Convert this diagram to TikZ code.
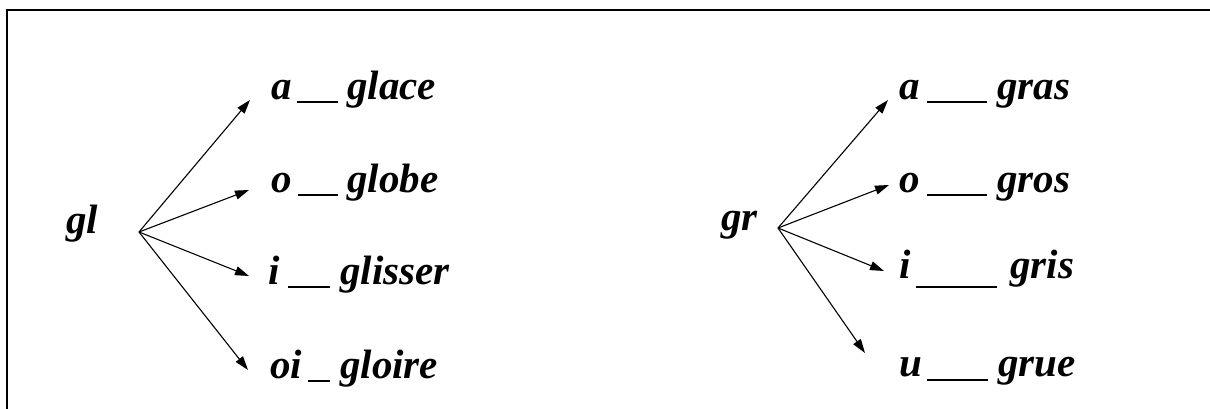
\documentclass[tikz,border=0pt]{standalone}
\usepackage{fontspec}
\setmainfont{Liberation Serif}
\usetikzlibrary{arrows.meta}
\begin{document}
\begin{tikzpicture}[x=1pt,y=-1pt,
  lbl/.style={anchor=base west,inner sep=0pt,font=\fontsize{41}{45}\selectfont\bfseries\itshape},
  conn/.style={line width=1.1pt,-{Triangle[length=14pt,width=9pt]}},
  blank/.style={line width=2pt},
  frame/.style={line width=1.4pt}]
\useasboundingbox (0,0) rectangle (1210,409);
% frame (top and left edges)
\draw[frame] (7,409) -- (7,10) -- (1210,10);
% left group
\node[lbl] (gl) at (66,233) {gl};
\coordinate (o1) at (139,232);
\coordinate (t1) at (250,100);
\coordinate (t2) at (249,190);
\coordinate (t3) at (249,276);
\coordinate (t4) at (248,370);
\foreach \t in {t1,t2,t3,t4} \draw[conn] (o1) -- (\t);
\node[lbl] (la) at (271,100) {a};
\node[lbl] (lo) at (271,192) {o};
\node[lbl] (li) at (268,284) {i};
\node[lbl] (loi) at (270,378) {oi};
\node[lbl] (wa) at (347,100) {glace};
\node[lbl] (wo) at (347,192) {globe};
\node[lbl] (wi) at (340,284) {glisser};
\node[lbl] (woi) at (340,378) {gloire};
\draw[blank] (297,102) -- (338,102);
\draw[blank] (298,195) -- (338,195);
\draw[blank] (288,287) -- (330,287);
\draw[blank] (308,381) -- (330,381);
% right group
\node[lbl] (gr) at (721,230) {gr};
\coordinate (o2) at (778,228);
\coordinate (s1) at (888,100);
\coordinate (s2) at (889,185);
\coordinate (s3) at (884,271);
\coordinate (s4) at (865,353);
\foreach \t in {s1,s2,s3,s4} \draw[conn] (o2) -- (\t);
\node[lbl] (ra) at (899,100) {a};
\node[lbl] (ro) at (899,193) {o};
\node[lbl] (ri) at (899,278) {i};
\node[lbl] (ru) at (899,376) {u};
\node[lbl] (wra) at (997,100) {gras};
\node[lbl] (wro) at (997,193) {gros};
\node[lbl] (wri) at (1010,278) {gris};
\node[lbl] (wru) at (998,376) {grue};
\draw[blank] (927,102) -- (987,102);
\draw[blank] (927,195) -- (987,195);
\draw[blank] (916,287) -- (997,287);
\draw[blank] (927,380) -- (988,380);
\end{tikzpicture}
\end{document}
